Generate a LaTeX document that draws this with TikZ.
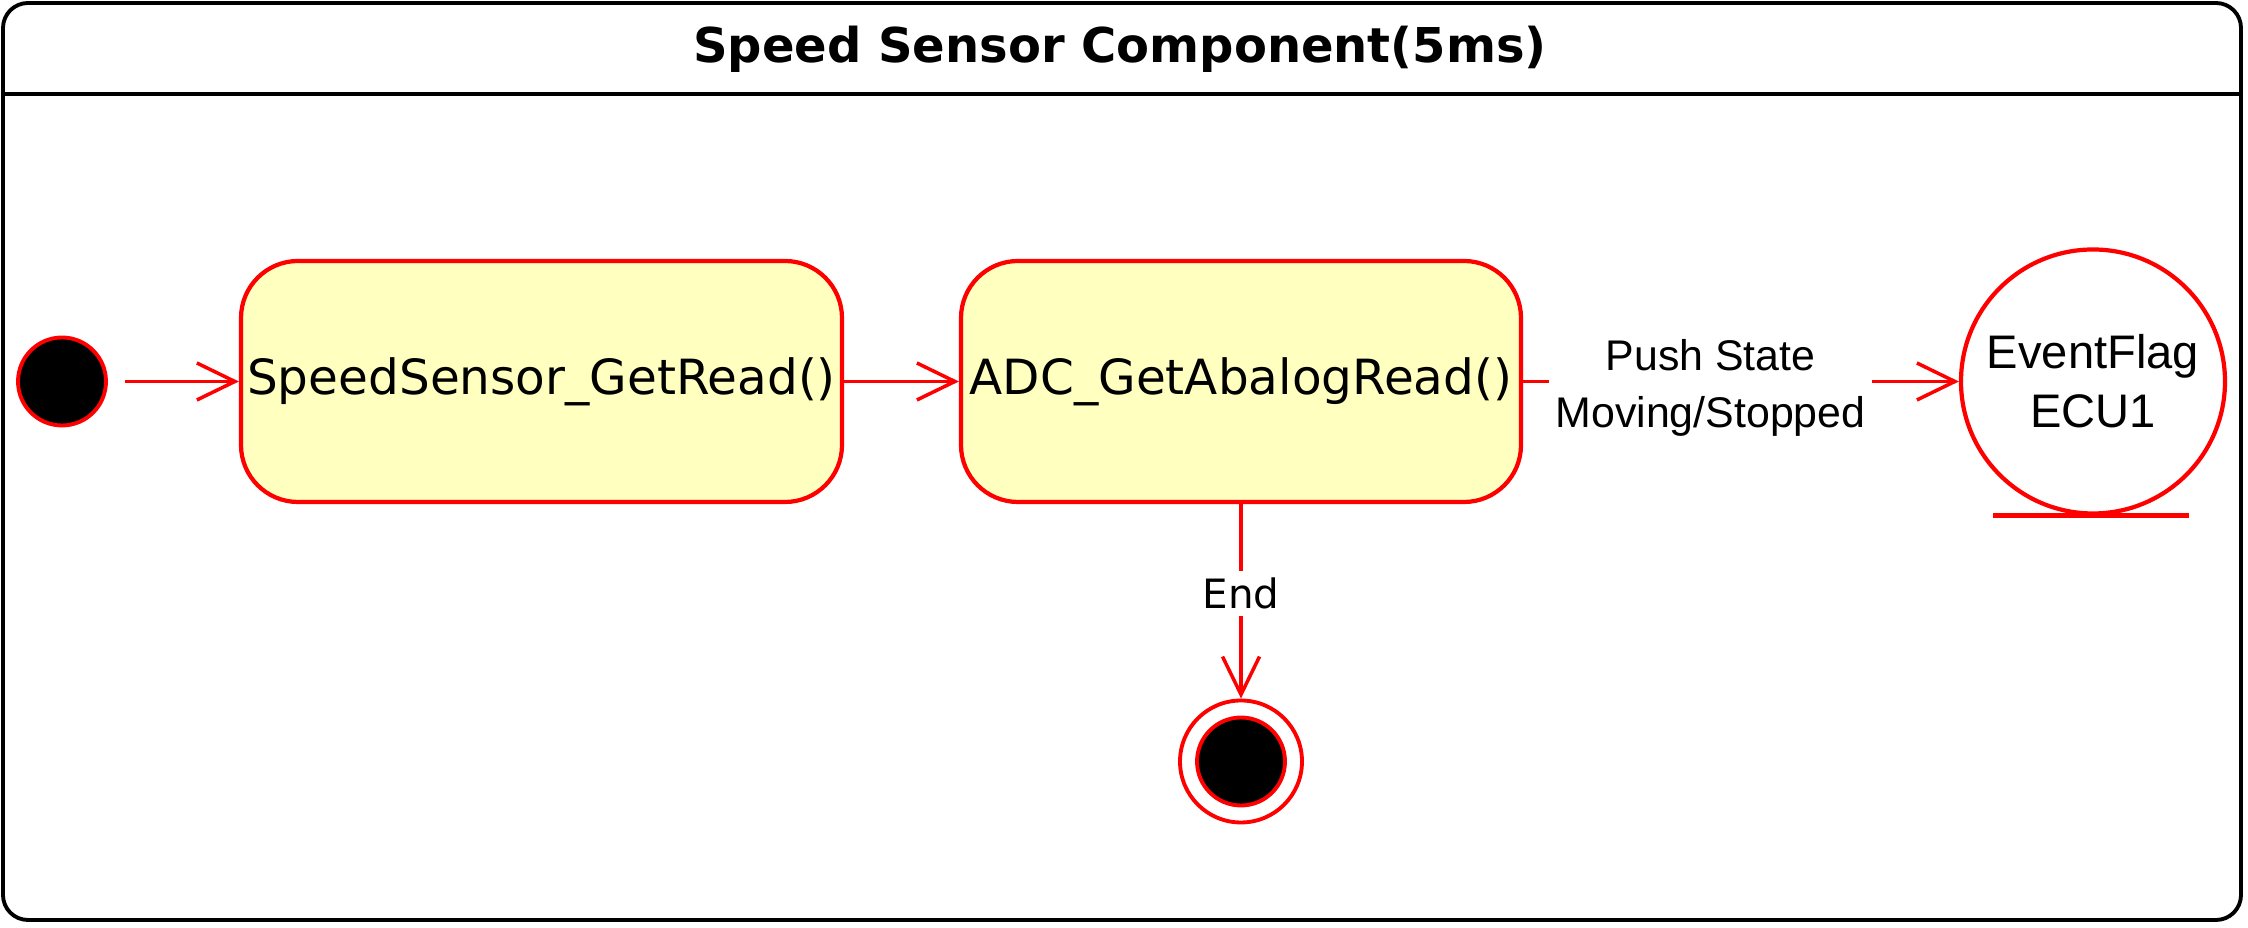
\documentclass[tikz,border=0pt]{standalone}
\usepackage{fontspec}
\setmainfont{DejaVu Sans}
\newfontfamily\arialfont{Liberation Sans}
\usetikzlibrary{positioning,arrows.meta}

\begin{document}
\begin{tikzpicture}[x=1cm,y=1cm,line width=1pt,
  state/.style={draw=cred,fill=cyel,rounded corners=0.57cm,line width=1.2pt,
    minimum height=2.41cm,inner sep=0pt,font=\fontsize{13.8pt}{16pt}\selectfont},
  dot/.style={circle,draw=cred,fill=black,minimum size=0.88cm,inner sep=0pt,line width=1.1pt},
  trans/.style={draw=cred,-{Straight Barb[length=3.8mm,width=3.7mm]}},
  lbl/.style={fill=white,inner sep=2pt,align=center,
    font=\arialfont\fontsize{12.2pt}{16.2pt}\selectfont}]
\definecolor{cred}{HTML}{FF0000}\definecolor{cyel}{HTML}{FFFFC0}
\useasboundingbox (0,0) rectangle (22.48,-9.28);
% frame with title bar
\draw[rounded corners=0.25cm,line width=1.1pt] (0.03,-0.03) rectangle (22.41,-9.20);
\draw[line width=1.1pt] (0.03,-0.94) -- (22.41,-0.94);
\node[font=\bfseries\fontsize{13.66pt}{16pt}\selectfont] (title) at (11.2,-0.49)
  {Speed Sensor Component(5ms)};
% states
\node[dot] (init) at (0.62,-3.815) {};
\node[state,minimum width=6.01cm] (read) at (5.415,-3.815) {SpeedSensor\_GetRead()};
\node[state,minimum width=5.60cm] (adc) at (12.41,-3.815) {ADC\_GetAbalogRead()};
\node[circle,draw=cred,line width=1.2pt,minimum size=2.64cm,inner sep=0pt,align=center,
  font=\arialfont\fontsize{13.4pt}{16.8pt}\selectfont] (flag) at (20.93,-3.815)
  {EventFlag\\ECU1};
\draw[cred,line width=1.2pt] ([xshift=-1cm]flag.south) -- ([xshift=0.96cm]flag.south);
% final state
\node[circle,draw=cred,minimum size=1.22cm,line width=1.1pt] (stop) at (12.41,-7.615) {};
\node[dot] (stopdot) at (stop) {};
% transitions
\draw[trans,shorten <=0.17cm] (init) -- (read);
\draw[trans] (read) -- (adc);
\draw[trans] (adc) -- node[lbl,pos=0.43,yshift=-0.06cm] (lpush)
  {Push State\\Moving/Stopped} (flag);
\draw[trans] (adc) -- node[lbl,pos=0.46,font=\fontsize{11.5pt}{14pt}\selectfont] (lend)
  {End} (stop);
\end{tikzpicture}
\end{document}
